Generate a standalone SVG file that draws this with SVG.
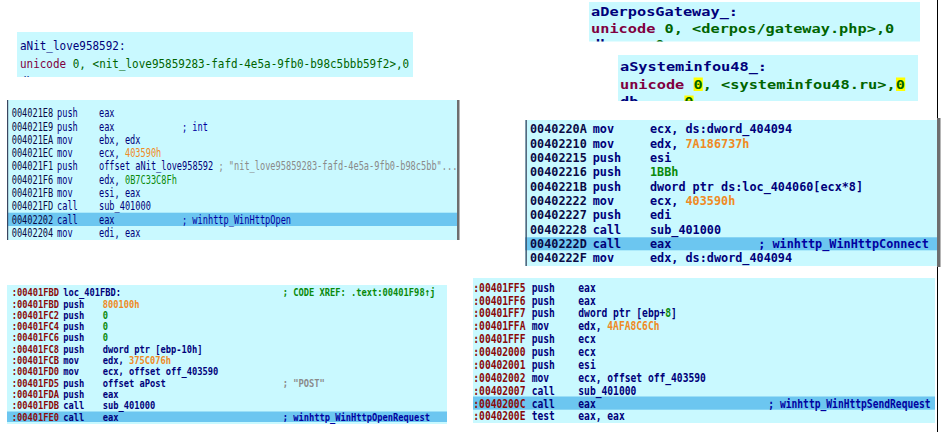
<svg xmlns="http://www.w3.org/2000/svg" width="945" height="432" viewBox="0 0 945 432">
<style>
text{font-family:"DejaVu Sans Mono","Liberation Mono",monospace;white-space:pre}
.bg{fill:#c9f9ff}
.hl{fill:#6cc6f0}
.n{fill:#00007a}
.ad{fill:#0a0a45}
.ar{fill:#8a0a0a}
.or{fill:#f08a24}
.gn{fill:#0a8a0a}
.gy{fill:#8a8a8a}
.cm{fill:#0000a0}
.uc{fill:#800040}
.sg{fill:#006400}
.b{font-weight:bold}
</style>
<defs>
<clipPath id="cTL"><rect x="17" y="32" width="396" height="45"/></clipPath>
<clipPath id="cR1"><rect x="589" y="2" width="331" height="39.5"/></clipPath>
<clipPath id="cR2"><rect x="618" y="55" width="300" height="46"/></clipPath>
</defs>
<rect width="945" height="432" fill="#ffffff"/>

<g id="str_nit">
<rect class="bg" x="17" y="32" width="396" height="45"/>
<g clip-path="url(#cTL)">
<g transform="scale(0.857,1)" font-size="12.8">
<text x="23.3" y="50" class="n">aNit_love958592:</text>
<text x="23.3" y="68.3"><tspan class="uc">unicode</tspan><tspan class="sg"> 0, &lt;nit_love95859283-fafd-4e5a-9fb0-b98c5bbb59f2&gt;,0</tspan></text>
<text x="23.3" y="86.5" class="n">db     <tspan class="sg">0</tspan></text>
</g>
</g>
</g>

<g id="str_derpos">
<rect class="bg" x="589" y="2" width="331" height="39.5"/>
<g clip-path="url(#cR1)">
<g transform="scale(1.175,1)" font-size="13" class="b">
<text x="503" y="16" class="n">aDerposGateway_:</text>
<text x="503" y="33.3"><tspan class="uc">unicode</tspan><tspan class="sg"> 0, &lt;derpos/gateway.php&gt;,0</tspan></text>
<text x="503" y="49.3" class="n">db     <tspan class="sg">0</tspan></text>
</g>
</g>
</g>

<g id="str_sysinfo">
<rect class="bg" x="618" y="55" width="300" height="46"/>
<g clip-path="url(#cR2)">
<rect x="693.6" y="77.5" width="9.2" height="13.5" fill="#ffff00"/>
<rect x="896" y="77.5" width="9.2" height="13.5" fill="#ffff00"/>
<rect x="684.4" y="95.5" width="9.2" height="13.5" fill="#ffff00"/>
<g transform="scale(1.175,1)" font-size="13" class="b">
<text x="527.66" y="71.5" class="n">aSysteminfou48_:</text>
<text x="527.66" y="89"><tspan class="uc">unicode</tspan><tspan class="sg"> 0, &lt;systeminfou48.ru&gt;,0</tspan></text>
<text x="527.66" y="106.5" class="n">db     <tspan class="sg">0</tspan></text>
</g>
</g>
</g>

<g id="code_open">
<rect class="bg" x="7" y="100" width="450" height="140"/>
<rect class="hl" x="7" y="212.7" width="450" height="13.3"/>
<rect x="7" y="100" width="1.2" height="140" fill="#3a4660"/>
<rect x="457" y="100" width="2.5" height="140" fill="#6e6e6e"/>
<g transform="scale(0.732,1)" font-size="11.8">
<text y="117.3"><tspan x="16" class="ad">004021E8</tspan><tspan x="77.9" class="n">push</tspan><tspan x="135.2" class="n">eax</tspan></text>
<text y="130.6"><tspan x="16" class="ad">004021E9</tspan><tspan x="77.9" class="n">push</tspan><tspan x="135.2" class="n">eax</tspan><tspan x="248.6" class="cm">; int</tspan></text>
<text y="143.9"><tspan x="16" class="ad">004021EA</tspan><tspan x="77.9" class="n">mov</tspan><tspan x="135.2" class="n">ebx, edx</tspan></text>
<text y="157.2"><tspan x="16" class="ad">004021EC</tspan><tspan x="77.9" class="n">mov</tspan><tspan x="135.2" class="n">ecx, </tspan><tspan class="or">403590h</tspan></text>
<text y="170.5"><tspan x="16" class="ad">004021F1</tspan><tspan x="77.9" class="n">push</tspan><tspan x="135.2" class="n">offset aNit_love958592 </tspan><tspan class="gy">; "nit_love95859283-fafd-4e5a-9fb0-b98c5bb"...</tspan></text>
<text y="183.8"><tspan x="16" class="ad">004021F6</tspan><tspan x="77.9" class="n">mov</tspan><tspan x="135.2" class="n">edx, </tspan><tspan class="gn">0B7C33C8Fh</tspan></text>
<text y="197.1"><tspan x="16" class="ad">004021FB</tspan><tspan x="77.9" class="n">mov</tspan><tspan x="135.2" class="n">esi, eax</tspan></text>
<text y="210.4"><tspan x="16" class="ad">004021FD</tspan><tspan x="77.9" class="n">call</tspan><tspan x="135.2" class="n">sub_401000</tspan></text>
<text y="223.7"><tspan x="16" class="ad">00402202</tspan><tspan x="77.9" class="n">call</tspan><tspan x="135.2" class="n">eax</tspan><tspan x="248.6" class="cm">; winhttp_WinHttpOpen</tspan></text>
<text y="237"><tspan x="16" class="ad">00402204</tspan><tspan x="77.9" class="n">mov</tspan><tspan x="135.2" class="n">edi, eax</tspan></text>
</g>
</g>

<g id="code_connect">
<rect class="bg" x="525" y="120" width="412" height="146"/>
<rect class="hl" x="525" y="237.3" width="412" height="13"/>
<rect x="525.5" y="120" width="1.3" height="146" fill="#3a4660"/>
<g font-size="11.8" class="b">
<text y="133.3"><tspan x="530" class="ad">0040220A</tspan><tspan x="592.7" class="n">mov</tspan><tspan x="650" class="n">ecx, ds:dword_404094</tspan></text>
<text y="147.6"><tspan x="530" class="ad">00402210</tspan><tspan x="592.7" class="n">mov</tspan><tspan x="650" class="n">edx, </tspan><tspan class="or">7A186737h</tspan></text>
<text y="162"><tspan x="530" class="ad">00402215</tspan><tspan x="592.7" class="n">push</tspan><tspan x="650" class="n">esi</tspan></text>
<text y="176.3"><tspan x="530" class="ad">00402216</tspan><tspan x="592.7" class="n">push</tspan><tspan x="650" class="gn">1BBh</tspan></text>
<text y="190.6"><tspan x="530" class="ad">0040221B</tspan><tspan x="592.7" class="n">push</tspan><tspan x="650" class="n">dword ptr ds:loc_404060[ecx*8]</tspan></text>
<text y="205"><tspan x="530" class="ad">00402222</tspan><tspan x="592.7" class="n">mov</tspan><tspan x="650" class="n">ecx, </tspan><tspan class="or">403590h</tspan></text>
<text y="219.3"><tspan x="530" class="ad">00402227</tspan><tspan x="592.7" class="n">push</tspan><tspan x="650" class="n">edi</tspan></text>
<text y="233.6"><tspan x="530" class="ad">00402228</tspan><tspan x="592.7" class="n">call</tspan><tspan x="650" class="n">sub_401000</tspan></text>
<text y="248"><tspan x="530" class="ad">0040222D</tspan><tspan x="592.7" class="n">call</tspan><tspan x="650" class="n">eax</tspan><tspan x="758.3" class="cm">; winhttp_WinHttpConnect</tspan></text>
<text y="262.3"><tspan x="530" class="ad">0040222F</tspan><tspan x="592.7" class="n">mov</tspan><tspan x="650" class="n">edx, ds:dword_404094</tspan></text>
</g>
</g>

<g id="code_openrequest">
<rect class="bg" x="7" y="285" width="440" height="139"/>
<rect class="hl" x="7" y="411.5" width="440" height="10.5"/>
<g transform="scale(0.795,1)" font-size="11" class="b">
<text y="296.3"><tspan x="14.7" class="ar">:00401FBD</tspan><tspan x="79.6" class="n">loc_401FBD:</tspan><tspan x="355.6" class="gn">; CODE XREF: .text:00401F98↑j</tspan></text>
<text y="307.6"><tspan x="14.7" class="ar">:00401FBD</tspan><tspan x="79.6" class="n">push</tspan><tspan x="129.2" class="or">800100h</tspan></text>
<text y="318.9"><tspan x="14.7" class="ar">:00401FC2</tspan><tspan x="79.6" class="n">push</tspan><tspan x="129.2" class="gn">0</tspan></text>
<text y="330.2"><tspan x="14.7" class="ar">:00401FC4</tspan><tspan x="79.6" class="n">push</tspan><tspan x="129.2" class="gn">0</tspan></text>
<text y="341.5"><tspan x="14.7" class="ar">:00401FC6</tspan><tspan x="79.6" class="n">push</tspan><tspan x="129.2" class="gn">0</tspan></text>
<text y="352.9"><tspan x="14.7" class="ar">:00401FC8</tspan><tspan x="79.6" class="n">push</tspan><tspan x="129.2" class="n">dword ptr [ebp-10h]</tspan></text>
<text y="364.2"><tspan x="14.7" class="ar">:00401FCB</tspan><tspan x="79.6" class="n">mov</tspan><tspan x="129.2" class="n">edx, </tspan><tspan class="or">375C076h</tspan></text>
<text y="375.5"><tspan x="14.7" class="ar">:00401FD0</tspan><tspan x="79.6" class="n">mov</tspan><tspan x="129.2" class="n">ecx, offset off_403590</tspan></text>
<text y="386.8"><tspan x="14.7" class="ar">:00401FD5</tspan><tspan x="79.6" class="n">push</tspan><tspan x="129.2" class="n">offset aPost</tspan><tspan x="355.6" class="gy">; "POST"</tspan></text>
<text y="398.1"><tspan x="14.7" class="ar">:00401FDA</tspan><tspan x="79.6" class="n">push</tspan><tspan x="129.2" class="n">eax</tspan></text>
<text y="409.4"><tspan x="14.7" class="ar">:00401FDB</tspan><tspan x="79.6" class="n">call</tspan><tspan x="129.2" class="n">sub_401000</tspan></text>
<text y="420.7"><tspan x="14.7" class="ar">:00401FE0</tspan><tspan x="79.6" class="n">call</tspan><tspan x="129.2" class="n">eax</tspan><tspan x="355.6" class="cm">; winhttp_WinHttpOpenRequest</tspan></text>
</g>
</g>

<g id="code_sendrequest">
<rect class="bg" x="473" y="278" width="462" height="145"/>
<rect class="hl" x="473" y="396.5" width="462" height="13.2"/>
<g transform="scale(0.803,1)" font-size="12" class="b">
<text y="291.7"><tspan x="589.4" class="ar">:00401FF5</tspan><tspan x="662.1" class="n">push</tspan><tspan x="720.2" class="n">eax</tspan></text>
<text y="304.6"><tspan x="589.4" class="ar">:00401FF6</tspan><tspan x="662.1" class="n">push</tspan><tspan x="720.2" class="n">eax</tspan></text>
<text y="317.4"><tspan x="589.4" class="ar">:00401FF7</tspan><tspan x="662.1" class="n">push</tspan><tspan x="720.2" class="n">dword ptr [ebp+</tspan><tspan class="gn">8</tspan><tspan class="n">]</tspan></text>
<text y="330.3"><tspan x="589.4" class="ar">:00401FFA</tspan><tspan x="662.1" class="n">mov</tspan><tspan x="720.2" class="n">edx, </tspan><tspan class="or">4AFA8C6Ch</tspan></text>
<text y="343.2"><tspan x="589.4" class="ar">:00401FFF</tspan><tspan x="662.1" class="n">push</tspan><tspan x="720.2" class="n">ecx</tspan></text>
<text y="356.1"><tspan x="589.4" class="ar">:00402000</tspan><tspan x="662.1" class="n">push</tspan><tspan x="720.2" class="n">ecx</tspan></text>
<text y="368.9"><tspan x="589.4" class="ar">:00402001</tspan><tspan x="662.1" class="n">push</tspan><tspan x="720.2" class="n">esi</tspan></text>
<text y="381.8"><tspan x="589.4" class="ar">:00402002</tspan><tspan x="662.1" class="n">mov</tspan><tspan x="720.2" class="n">ecx, offset off_403590</tspan></text>
<text y="394.7"><tspan x="589.4" class="ar">:00402007</tspan><tspan x="662.1" class="n">call</tspan><tspan x="720.2" class="n">sub_401000</tspan></text>
<text y="407.6"><tspan x="589.4" class="ar">:0040200C</tspan><tspan x="662.1" class="n">call</tspan><tspan x="720.2" class="n">eax</tspan><tspan x="956.8" class="cm">; winhttp_WinHttpSendRequest</tspan></text>
<text y="420.4"><tspan x="589.4" class="ar">:0040200E</tspan><tspan x="662.1" class="n">test</tspan><tspan x="720.2" class="n">eax, eax</tspan></text>
</g>
</g>

<g id="frame">
<rect x="937" y="0" width="1" height="432" fill="#000000"/>
<rect x="937" y="118" width="3.5" height="149" fill="#6e6e6e"/>
</g>
</svg>
